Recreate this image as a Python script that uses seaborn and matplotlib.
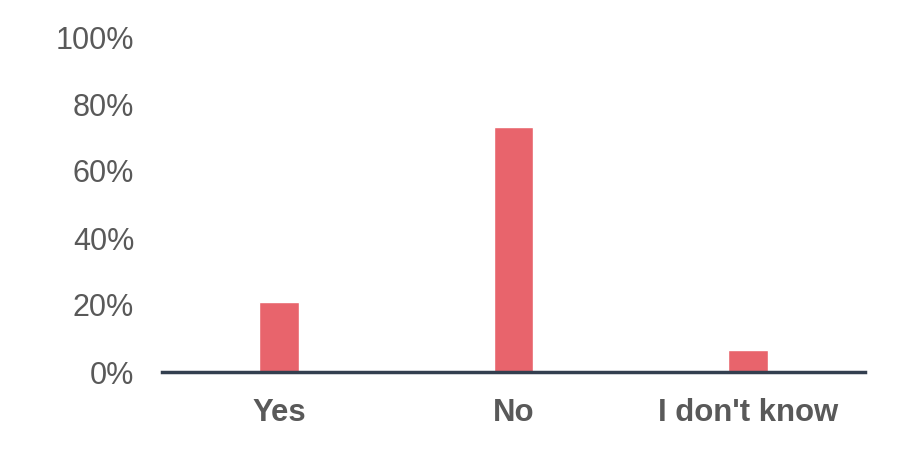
import numpy as np
import pandas as pd
import matplotlib
matplotlib.use('Agg')
import matplotlib.pyplot as plt
import seaborn as sns
from matplotlib.ticker import PercentFormatter

# data
answers = ['Yes', 'No', "I don't know"]
shares = [0.21, 0.73, 0.066]

df = pd.DataFrame({'answer': answers, 'share': shares})

sns.set_style('white')
plt.rcParams['font.family'] = ['Liberation Sans', 'DejaVu Sans']

fig = plt.figure(figsize=(9.06, 4.54), dpi=100)
ax = fig.add_axes([162 / 906, 1 - 372 / 454, 703 / 906, 335 / 454])

sns.barplot(data=df, x='answer', y='share', color='#E8646C', width=0.17,
            saturation=1, ax=ax)

ax.set_ylim(0, 1)
ax.set_yticks(np.arange(0, 1.01, 0.2))
ax.yaxis.set_major_formatter(PercentFormatter(1.0, decimals=0))
ax.set_xlabel('')
ax.set_ylabel('')

for s in ['top', 'right', 'left']:
    ax.spines[s].set_visible(False)
ax.spines['bottom'].set_color('#333F4F')
ax.spines['bottom'].set_linewidth(2.5)

ax.tick_params(axis='y', length=0, pad=20, labelsize=22, labelcolor='#595959')
ax.tick_params(axis='x', length=0, pad=19, labelsize=22.4, labelcolor='#595959')
for lbl in ax.get_xticklabels():
    lbl.set_fontweight('bold')

fig.savefig('out.png', dpi=100)
